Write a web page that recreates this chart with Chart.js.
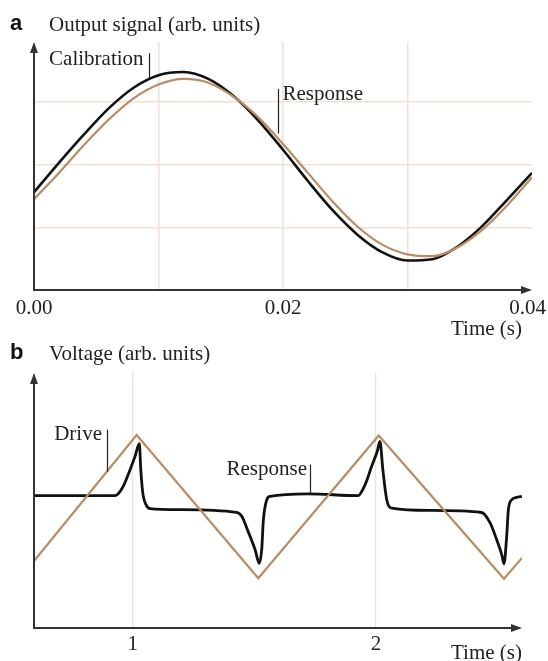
<!DOCTYPE html>
<html>
<head>
<meta charset="utf-8">
<script src="https://cdn.jsdelivr.net/npm/chart.js@4.4.1/dist/chart.umd.min.js"></script>
<style>
  html, body { margin: 0; padding: 0; background: #fff; }
  #wrap { position: relative; width: 548px; height: 661px; }
  .panel { position: absolute; left: 0; width: 548px; }
  #panelA { top: 0; height: 340px; }
  #panelB { top: 340px; height: 321px; }
</style>
</head>
<body>
<div id="wrap">
  <div class="panel" id="panelA"><canvas id="chartA"></canvas></div>
  <div class="panel" id="panelB"><canvas id="chartB"></canvas></div>
</div>
<script>
// Panel a: output signal, calibration vs response
const sigTimes = [0, 0.002, 0.004, 0.006, 0.008, 0.010, 0.012, 0.014, 0.016, 0.018, 0.020,
                  0.022, 0.024, 0.026, 0.028, 0.030, 0.032, 0.034, 0.036, 0.038, 0.040];
const calibration = [1.56, 2.03, 2.48, 2.90, 3.23, 3.43, 3.48, 3.37, 3.10, 2.71, 2.24,
                     1.74, 1.27, 0.88, 0.60, 0.47, 0.49, 0.69, 1.02, 1.44, 1.87];
const sigResponse = [1.45, 1.87, 2.31, 2.72, 3.06, 3.28, 3.37, 3.31, 3.09, 2.76, 2.33,
                     1.87, 1.41, 1.01, 0.72, 0.57, 0.54, 0.68, 0.96, 1.35, 1.80];
const sigTickValues = [0, 0.02, 0.04];
const sigTickLabels = ['0.00', '0.02', '0.04'];
const sigGridTimes = [0.01, 0.02, 0.03];
const sigGridLevels = [1, 2, 3];

// Panel b: voltage, triangle drive and response
const driveTimes = [0.594, 1.016, 1.516, 2.011, 2.526, 2.6];
const driveValues = [2.63, 7.57, 1.95, 7.55, 1.93, 2.75];
const voltTimes = [0.594, 0.927, 0.960, 0.989, 1.009, 1.027, 1.033, 1.041, 1.055, 1.071, 1.194,
                   1.427, 1.448, 1.474, 1.503, 1.520, 1.530, 1.537, 1.551, 1.564, 1.720,
                   1.926, 1.955, 1.982, 2.005, 2.016, 2.028, 2.044, 2.065, 2.222,
                   2.434, 2.469, 2.496, 2.517, 2.526, 2.537, 2.544, 2.558, 2.578, 2.600];
const voltValues = [5.19, 5.19, 5.54, 6.21, 6.72, 7.23, 6.21, 5.31, 4.83, 4.68, 4.64,
                    4.53, 4.38, 3.79, 3.07, 2.54, 3.07, 4.25, 5.03, 5.16, 5.26,
                    5.19, 5.62, 6.34, 6.93, 7.32, 6.21, 5.03, 4.70, 4.61,
                    4.53, 4.12, 3.46, 2.87, 2.52, 3.59, 4.64, 5.03, 5.12, 5.16];
const voltTickValues = [1, 2];
const voltTickLabels = ['1', '2'];

const BLACK = '#111111';
const TAN = '#b88c64';
const GRID = '#f0e2d3';
const AXIS = '#333333';
const SERIF = '"Liberation Serif", "Times New Roman", serif';

function toPoints(xs, ys) {
    return xs.map((x, i) => ({ x: x, y: ys[i] }));
}

// axes with arrows, tick labels, panel header, "Time (s)" and the leader-line labels
const sketchDecor = {
    id: 'sketchDecor',
    afterDraw(chart, args, opts) {
        const { ctx, chartArea: a, scales } = chart;
        const xs = scales.x, ys = scales.y;
        ctx.save();

        // axes
        ctx.strokeStyle = AXIS;
        ctx.fillStyle = AXIS;
        ctx.lineWidth = 2;
        const tipX = a.right;
        ctx.beginPath();
        ctx.moveTo(a.left, a.top + 8);
        ctx.lineTo(a.left, a.bottom);
        ctx.lineTo(tipX - 8, a.bottom);
        ctx.stroke();
        ctx.beginPath();
        ctx.moveTo(a.left, a.top);
        ctx.lineTo(a.left - 4, a.top + 11);
        ctx.lineTo(a.left + 4, a.top + 11);
        ctx.closePath();
        ctx.fill();
        ctx.beginPath();
        ctx.moveTo(tipX, a.bottom);
        ctx.lineTo(tipX - 11, a.bottom - 4);
        ctx.lineTo(tipX - 11, a.bottom + 4);
        ctx.closePath();
        ctx.fill();

        // tick labels, kept inside the canvas
        ctx.fillStyle = '#222';
        ctx.font = '21px ' + SERIF;
        ctx.textAlign = 'center';
        ctx.textBaseline = 'alphabetic';
        opts.tickValues.forEach((v, i) => {
            const label = opts.tickLabels[i];
            const w = ctx.measureText(label).width;
            let px = xs.getPixelForValue(v);
            px = Math.min(px, chart.width - 2 - w / 2);
            ctx.fillText(label, px, opts.tickBaseline);
        });

        // header
        ctx.fillStyle = '#111';
        ctx.textAlign = 'left';
        ctx.font = 'bold 22px "Liberation Sans", Arial, sans-serif';
        ctx.fillText(opts.letter, 10, opts.headerBaseline);
        ctx.font = '21px ' + SERIF;
        ctx.fillStyle = '#222';
        ctx.fillText(opts.title, 49, opts.headerBaseline + 1);

        // axis title
        ctx.textAlign = 'right';
        ctx.fillText('Time (s)', 522, opts.timeBaseline);

        // labels with leader lines
        ctx.lineWidth = 1.2;
        ctx.strokeStyle = '#222';
        opts.notes.forEach(n => {
            ctx.textAlign = n.align;
            ctx.fillText(n.text, xs.getPixelForValue(n.x), ys.getPixelForValue(n.y));
            const lx = Math.round(xs.getPixelForValue(n.lineX)) + 0.5;
            ctx.beginPath();
            ctx.moveTo(lx, ys.getPixelForValue(n.lineY0));
            ctx.lineTo(lx, ys.getPixelForValue(n.lineY1));
            ctx.stroke();
        });
        ctx.restore();
    }
};

function baseScales(xMin, xMax, yMax, xGrid, yGrid, xHeight, gridWidth) {
    return {
        x: {
            type: 'linear',
            min: xMin,
            max: xMax,
            afterBuildTicks: s => { s.ticks = xGrid.map(v => ({ value: v })); },
            afterFit: s => { s.height = xHeight; s.paddingLeft = 0; s.paddingRight = 0; },
            ticks: { display: false },
            grid: {
                drawTicks: false,
                lineWidth: gridWidth,
                color: GRID
            },
            border: { display: false }
        },
        y: {
            min: 0,
            max: yMax,
            afterBuildTicks: s => { s.ticks = yGrid.map(v => ({ value: v })); },
            afterFit: s => { s.width = 0; s.paddingTop = 0; s.paddingBottom = 0; },
            ticks: { display: false },
            grid: {
                display: yGrid.length > 0,
                drawTicks: false,
                lineWidth: gridWidth,
                color: GRID
            },
            border: { display: false }
        }
    };
}

new Chart(document.getElementById('chartA'), {
    type: 'line',
    data: {
        datasets: [
            {
                label: 'Response',
                data: toPoints(sigTimes, sigResponse),
                borderColor: TAN,
                borderWidth: 2.2,
                pointRadius: 0,
                cubicInterpolationMode: 'monotone'
            },
            {
                label: 'Calibration',
                data: toPoints(sigTimes, calibration),
                borderColor: BLACK,
                borderWidth: 2.6,
                pointRadius: 0,
                cubicInterpolationMode: 'monotone'
            }
        ]
    },
    options: {
        responsive: true,
        maintainAspectRatio: false,
        animation: false,
        layout: { padding: { top: 42, left: 34, right: 16, bottom: 0 } },
        scales: baseScales(0, 0.04, 3.96, sigGridTimes, sigGridLevels, 50, 1.5),
        plugins: {
            legend: { display: false },
            tooltip: { enabled: false },
            sketchDecor: {
                letter: 'a',
                title: 'Output signal (arb. units)',
                headerBaseline: 30,
                tickValues: sigTickValues,
                tickLabels: sigTickLabels,
                tickBaseline: 314,
                timeBaseline: 335,
                notes: [
                    { text: 'Calibration', x: 0.00121, y: 3.59, align: 'left', lineX: 0.0092, lineY0: 3.78, lineY1: 3.38 },
                    { text: 'Response', x: 0.01996, y: 3.03, align: 'left', lineX: 0.01961, lineY0: 3.21, lineY1: 2.50 }
                ]
            }
        }
    },
    plugins: [sketchDecor]
});

new Chart(document.getElementById('chartB'), {
    type: 'line',
    data: {
        datasets: [
            {
                label: 'Drive',
                data: toPoints(driveTimes, driveValues),
                borderColor: TAN,
                borderWidth: 2.2,
                pointRadius: 0,
                tension: 0
            },
            {
                label: 'Response',
                data: toPoints(voltTimes, voltValues),
                borderColor: BLACK,
                borderWidth: 2.8,
                pointRadius: 0,
                cubicInterpolationMode: 'monotone'
            }
        ]
    },
    options: {
        responsive: true,
        maintainAspectRatio: false,
        animation: false,
        layout: { padding: { top: 33, left: 34, right: 26, bottom: 0 } },
        scales: baseScales(0.594, 2.6, 10, voltTickValues, [], 33, 1.2),
        plugins: {
            legend: { display: false },
            tooltip: { enabled: false },
            sketchDecor: {
                letter: 'b',
                title: 'Voltage (arb. units)',
                headerBaseline: 19,
                tickValues: voltTickValues,
                tickLabels: voltTickLabels,
                tickBaseline: 310,
                timeBaseline: 319,
                notes: [
                    { text: 'Drive', x: 0.677, y: 7.36, align: 'left', lineX: 0.894, lineY0: 7.78, lineY1: 6.13 },
                    { text: 'Response', x: 1.716, y: 6.01, align: 'right', lineX: 1.727, lineY0: 6.41, lineY1: 5.23 }
                ]
            }
        }
    },
    plugins: [sketchDecor]
});
</script>
</body>
</html>
